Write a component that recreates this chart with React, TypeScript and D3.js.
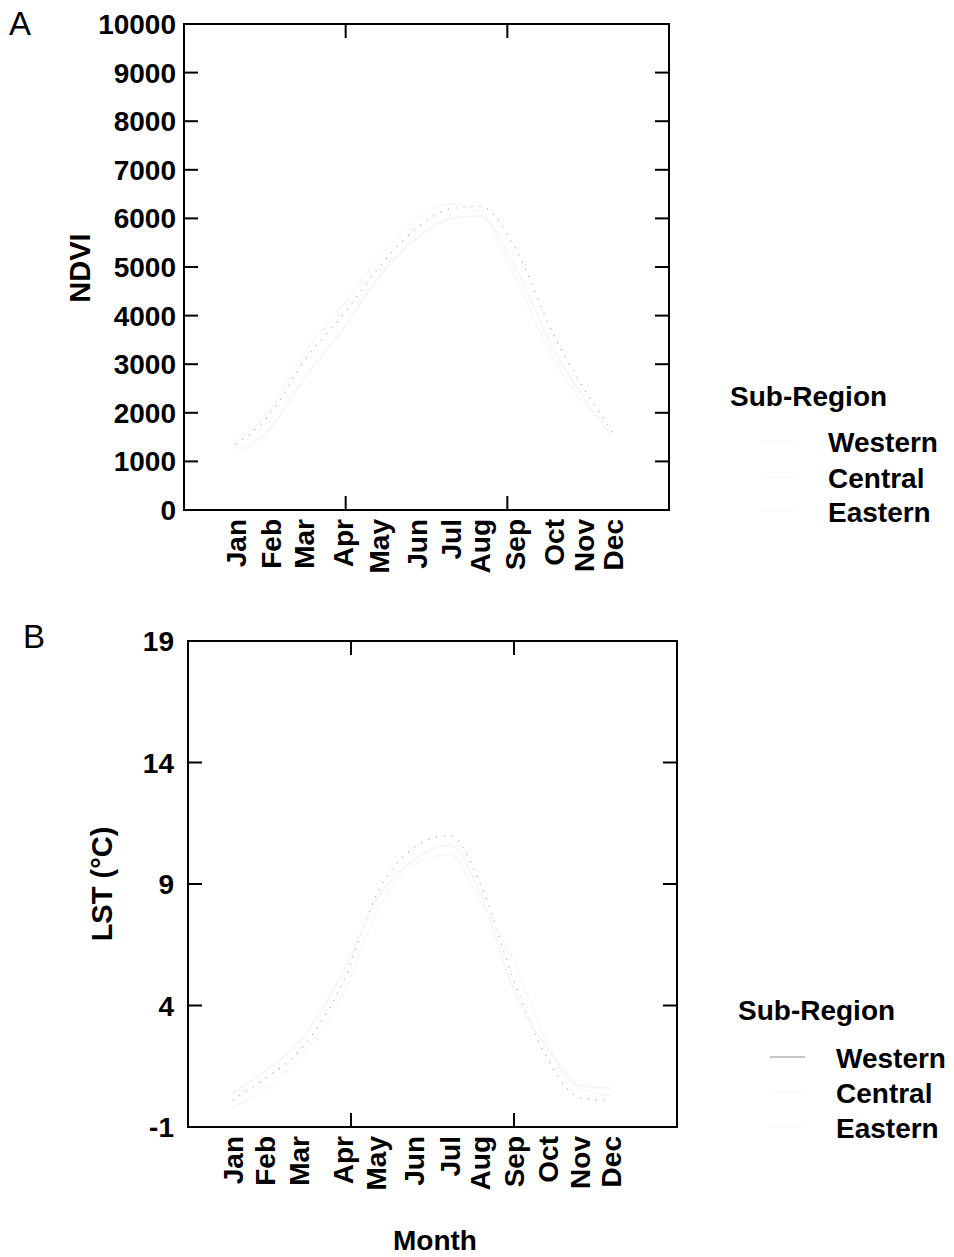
import React from "react";
import * as d3 from "d3";

// ---------- data ----------
const seriesNames = ["Western", "Central", "Eastern"];
const monthLabels = ["Jan", "Feb", "Mar", "Apr", "May", "Jun", "Jul", "Aug", "Sep", "Oct", "Nov", "Dec"];
// day-of-year positions of the month labels (as placed in each panel)
const ndviMonthDoy = [-2, 31, 61, 97, 131, 166, 198, 225, 257, 293, 321, 348];
const lstMonthDoy = [-9, 21, 52, 93, 123, 158, 191, 219, 250, 281, 311, 339];
const xMajorTicks = [-50, 100, 250, 400];
const ndviTicks = [0, 1000, 2000, 3000, 4000, 5000, 6000, 7000, 8000, 9000, 10000];
const lstTicks = [-1, 4, 9, 14, 19];

const ndviWestern = [1350, 2000, 3050, 4000, 5000, 5800, 6200, 6250, 5400, 3600, 2500, 1600];
const ndviCentral = [1200, 1700, 2700, 3700, 4800, 5600, 6000, 6050, 5000, 3300, 2300, 1500];
const ndviEastern = [1400, 2100, 3200, 4200, 5200, 6000, 6300, 6100, 4800, 3100, 2200, 1700];

const lstWestern = [0.1, 1.0, 2.1, 5.0, 8.5, 10.5, 11.0, 9.0, 5.0, 1.8, 0.2, 0.1];
const lstCentral = [0.4, 1.3, 2.5, 5.4, 8.3, 10.0, 10.6, 8.6, 4.6, 2.2, 0.7, 0.6];
const lstEastern = [-0.2, 0.6, 1.8, 4.5, 7.8, 9.8, 10.2, 8.3, 5.8, 2.4, 0.6, 0.3];

const seriesStyles = [
  { stroke: "#a8a8a8", dash: "1 7" },
  { stroke: "#f3f3f3", dash: "" },
  { stroke: "#f6f6f6", dash: "" },
];

const FONT = "'Liberation Sans', Arial, Helvetica, sans-serif";

type PanelProps = {
  letter: string;
  letterX: number;
  letterY: number;
  x0: number;
  x1: number;
  y0: number;
  y1: number;
  yDomain: [number, number];
  yTicks: number[];
  yLabelRight: number;
  yTitle: string;
  yTitleX: number;
  yTitleY: number;
  monthDoy: number[];
  series: number[][];
  legendX: number;
  legendTitleY: number;
  legendItemX: number;
  legendItemYs: number[];
  showLegendLine: boolean;
};

function Panel(p: PanelProps) {
  const x = d3.scaleLinear().domain([-50, 400]).range([p.x0, p.x1]);
  const y = d3.scaleLinear().domain(p.yDomain).range([p.y1, p.y0]);
  const tick = 14;
  const line = d3
    .line<[number, number]>()
    .x((d) => x(d[0]))
    .y((d) => y(d[1]))
    .curve(d3.curveMonotoneX);
  const innerX = xMajorTicks.filter((t) => t > -50 && t < 400);
  return (
    <g>
      <text x={p.letterX} y={p.letterY} fontSize={33} fontFamily={FONT}>
        {p.letter}
      </text>
      {/* series */}
      {p.series.map((vals, i) => (
        <path
          key={i}
          d={line(vals.map((v, j) => [p.monthDoy[j], v]) as [number, number][]) || ""}
          fill="none"
          stroke={seriesStyles[i].stroke}
          strokeWidth={1.2}
          strokeDasharray={seriesStyles[i].dash}
        />
      ))}
      {/* frame */}
      <rect
        x={p.x0}
        y={p.y0}
        width={p.x1 - p.x0}
        height={p.y1 - p.y0}
        fill="none"
        stroke="#000"
        strokeWidth={2}
      />
      {/* y ticks */}
      {p.yTicks.map((t) => (
        <g key={t}>
          <line x1={p.x0} x2={p.x0 + tick} y1={y(t)} y2={y(t)} stroke="#000" strokeWidth={2} />
          <line x1={p.x1} x2={p.x1 - tick} y1={y(t)} y2={y(t)} stroke="#000" strokeWidth={2} />
          <text
            x={p.yLabelRight}
            y={y(t)}
            dy="0.36em"
            textAnchor="end"
            fontSize={28}
            fontWeight="bold"
            fontFamily={FONT}
          >
            {t}
          </text>
        </g>
      ))}
      {/* x ticks */}
      {innerX.map((t) => (
        <g key={t}>
          <line x1={x(t)} x2={x(t)} y1={p.y1} y2={p.y1 - tick} stroke="#000" strokeWidth={2} />
          <line x1={x(t)} x2={x(t)} y1={p.y0} y2={p.y0 + tick} stroke="#000" strokeWidth={2} />
        </g>
      ))}
      {/* month labels */}
      {monthLabels.map((m, i) => (
        <text
          key={m}
          transform={`translate(${x(p.monthDoy[i])},${p.y1 + 9}) rotate(-90)`}
          dy="0.36em"
          textAnchor="end"
          fontSize={28}
          fontWeight="bold"
          fontFamily={FONT}
        >
          {m}
        </text>
      ))}
      {/* y title */}
      <text
        transform={`translate(${p.yTitleX},${p.yTitleY}) rotate(-90)`}
        dy="0.36em"
        textAnchor="middle"
        fontSize={29}
        fontWeight="bold"
        fontFamily={FONT}
      >
        {p.yTitle}
      </text>
      {/* legend */}
      <text x={p.legendX} y={p.legendTitleY} fontSize={28} fontWeight="bold" fontFamily={FONT}>
        Sub-Region
      </text>
      {seriesNames.map((n, i) => (
        <g key={n}>
          <line
            x1={p.legendItemX - 66}
            x2={p.legendItemX - 31}
            y1={p.legendItemYs[i] - 11}
            y2={p.legendItemYs[i] - 11}
            stroke={p.showLegendLine && i === 0 ? "#8a8a8a" : "#f6f6f6"}
            strokeWidth={1}
          />
          <text x={p.legendItemX} y={p.legendItemYs[i]} fontSize={28} fontWeight="bold" fontFamily={FONT}>
            {n}
          </text>
        </g>
      ))}
    </g>
  );
}

export default function App() {
  return (
    <svg
      width={954}
      height={1257}
      viewBox="0 0 954 1257"
      style={{ position: "absolute", left: 0, top: 0, background: "#fff" }}
    >
      <rect x={0} y={0} width={954} height={1257} fill="#fff" />
      <Panel
        letter="A"
        letterX={9}
        letterY={35}
        x0={184}
        x1={669}
        y0={24}
        y1={510}
        yDomain={[0, 10000]}
        yTicks={ndviTicks}
        yLabelRight={176}
        yTitle="NDVI"
        yTitleX={80}
        yTitleY={268}
        monthDoy={ndviMonthDoy}
        series={[ndviWestern, ndviCentral, ndviEastern]}
        legendX={730}
        legendTitleY={406}
        legendItemX={828}
        legendItemYs={[452, 488, 522]}
        showLegendLine={false}
      />
      <Panel
        letter="B"
        letterX={23}
        letterY={648}
        x0={188}
        x1={677}
        y0={641}
        y1={1127}
        yDomain={[-1, 19]}
        yTicks={lstTicks}
        yLabelRight={174}
        yTitle="LST (°C)"
        yTitleX={102}
        yTitleY={884}
        monthDoy={lstMonthDoy}
        series={[lstWestern, lstCentral, lstEastern]}
        legendX={738}
        legendTitleY={1020}
        legendItemX={836}
        legendItemYs={[1068, 1103, 1138]}
        showLegendLine={true}
      />
      <text x={435} y={1250} textAnchor="middle" fontSize={28} fontWeight="bold" fontFamily={FONT}>
        Month
      </text>
    </svg>
  );
}
